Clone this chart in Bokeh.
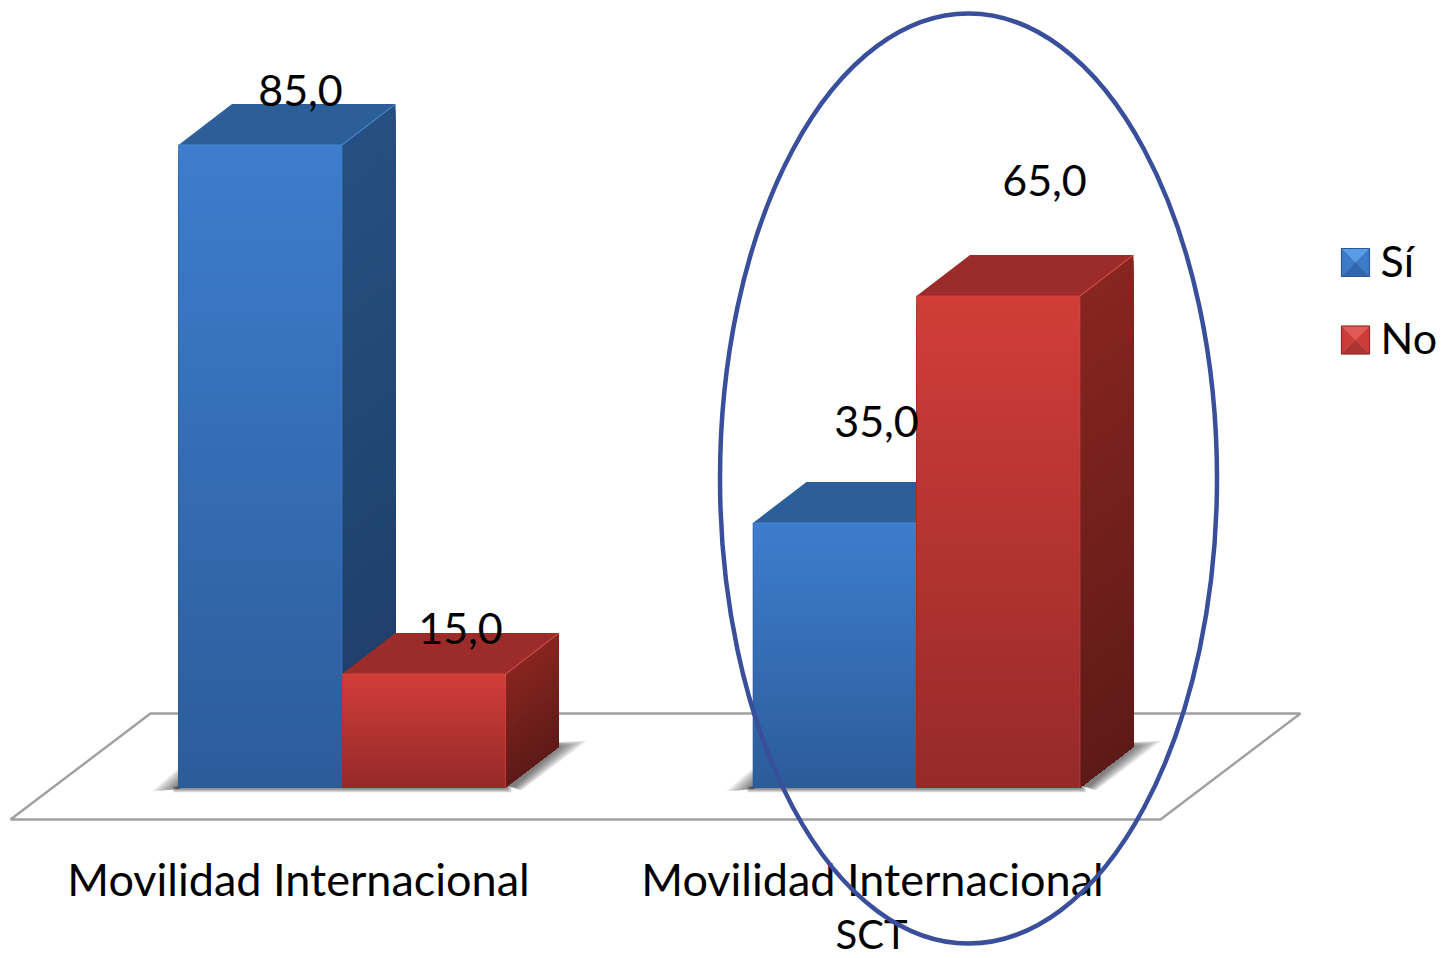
from bokeh.plotting import figure
from bokeh.models import ColumnDataSource
from bokeh.core.properties import value
from bokeh.embed import file_html
from bokeh.resources import INLINE

categories = ["Movilidad Internacional", "Movilidad Internacional\nSCT"]
si_values = [85.0, 35.0]
no_values = [15.0, 65.0]
series_names = ["Sí", "No"]

FONT = "Lato"
W, H = 1443, 958
PX_PER_GROUP = 574.5
PX_PER_UNIT = 7.56
X0_PX, Y0_PX = 341.5, 787.0


def gx(px):
    return (px - X0_PX) / PX_PER_GROUP


def vy(py):
    return (Y0_PX - py) / PX_PER_UNIT


BAR_W = 163.5 / PX_PER_GROUP
DX = 53.5 / PX_PER_GROUP
DY = 41.0 / PX_PER_UNIT

p = figure(width=W, height=H, x_range=(gx(0), gx(W)), y_range=(vy(H), vy(0)),
           toolbar_location=None, output_backend="svg", x_axis_location=None,
           y_axis_location=None, min_border=0, outline_line_color=None,
           background_fill_color="white")
p.grid.visible = False


def hexmix(a, b, t):
    ca = [int(a[i:i + 2], 16) for i in (1, 3, 5)]
    cb = [int(b[i:i + 2], 16) for i in (1, 3, 5)]
    return "#%02x%02x%02x" % tuple(round(x + (y - x) * t) for x, y in zip(ca, cb))


# floor plate
p.patch([gx(10), gx(1160), gx(1300), gx(150)], [vy(819), vy(819), vy(713), vy(713)],
        fill_color="white", line_color="#a0a0a0", line_width=2.4)

STYLE = {
    "Sí": dict(front=("#3d7dcd", "#2c5c9a"), side=("#265081", "#1d3d66"), top="#2c5f9a", edge="#4788d8"),
    "No": dict(front=("#d13d39", "#962a29"), side=("#88251f", "#5e1a18"), top="#9c2c2a", edge="#dc4a46"),
}


def draw_shadow(left, right):
    layers = 10
    for k in range(layers):
        g = 1 - k / layers
        alpha = .085
        # right-hand cast shadow
        p.patch([gx(right - 4), gx(right + 50), gx(right + 50 + 32 * g), gx(right + 8 + 8 * g)],
                [vy(784), vy(742), vy(740 + 8 * (1 - g)), vy(786 + 4 * g)],
                fill_color="#303030", fill_alpha=alpha, line_color=None)
        # left-hand cast shadow
        p.patch([gx(left + 2), gx(left + 2), gx(left - 27 * g)],
                [vy(766 + 18 * (1 - g)), vy(788), vy(789 + 2 * g)],
                fill_color="#303030", fill_alpha=alpha, line_color=None)
        # thin shadow along the base
        p.patch([gx(left - 6 * g), gx(right + 6 * g), gx(right + 6 * g), gx(left - 6 * g)],
                [vy(786), vy(786), vy(787 + 5 * g), vy(787 + 5 * g)],
                fill_color="#303030", fill_alpha=alpha, line_color=None)


def draw_bar(x_left, val, st):
    x_right = x_left + BAR_W
    n = max(24, int(val * 1.5))
    xs, ys, cs = [], [], []
    # side face: every slice runs down to the base, so no seams appear
    for i in range(n):
        v1 = val * (1 - i / n)
        xs.append([x_right, x_right + DX, x_right + DX, x_right])
        ys.append([v1, v1 + DY, DY, 0])
        cs.append(hexmix(st["side"][0], st["side"][1], (i + .5) / n))
    # front face
    for i in range(n):
        v1 = val * (1 - i / n)
        xs.append([x_left, x_right, x_right, x_left])
        ys.append([v1, v1, 0, 0])
        cs.append(hexmix(st["front"][0], st["front"][1], (i + .5) / n))
    # top face
    xs.append([x_left, x_right, x_right + DX, x_left + DX])
    ys.append([val, val, val + DY, val + DY])
    cs.append(st["top"])
    src = ColumnDataSource(dict(xs=xs, ys=ys, c=cs))
    p.patches("xs", "ys", source=src, fill_color="c", line_color=None)
    p.multi_line([[x_left, x_right], [x_right, x_right + DX]], [[val, val], [val, val + DY]],
                 line_color=st["edge"], line_width=1.2, line_alpha=.6)
    p.line([x_right, x_right], [0, val], line_color=st["edge"], line_width=1.2, line_alpha=.45)
    p.line([x_left, x_left], [0, val], line_color=st["front"][1], line_width=1.0, line_alpha=.6)


for g in range(len(categories)):
    draw_shadow(X0_PX + g * PX_PER_GROUP - 163.5, X0_PX + g * PX_PER_GROUP + 163.5)
for g, (a, b) in enumerate(zip(si_values, no_values)):
    draw_bar(g - BAR_W, a, STYLE["Sí"])
    draw_bar(g, b, STYLE["No"])

# value labels (pixel anchors are layout only)
label_px = [(300, 90), (460, 628), (876, 421), (1044, 180)]
label_vals = [si_values[0], no_values[0], si_values[1], no_values[1]]
p.text([gx(a) for a, _ in label_px], [vy(b) for _, b in label_px],
       text=[f"{v:.1f}".replace(".", ",") for v in label_vals],
       text_font=value(FONT), text_font_size="43px", text_color="black",
       text_align="center", text_baseline="middle")

# category labels
p.text([gx(298), gx(872)], [vy(878), vy(878)], text=[c.split("\n")[0] for c in categories],
       text_font=value(FONT), text_font_size="45px", text_color="black",
       text_align="center", text_baseline="middle")
p.text([gx(871)], [vy(933)], text=[categories[1].split("\n")[1]],
       text_font=value(FONT), text_font_size="40px", text_color="black",
       text_align="center", text_baseline="middle")

# legend swatches with bevel
for name, cy, tc, mc, bc, lc in (("Sí", 262, "#5a9be6", "#3c7bc8", "#3168ad", "#2b5a94"),
                                 ("No", 339.5, "#e25a55", "#cc3d3a", "#ab3331", "#8f2a28")):
    x1, x2, y1, y2, xc = 1341, 1369, cy - 14, cy + 14, 1355
    p.patches([[gx(x1), gx(x2), gx(xc)], [gx(x1), gx(xc), gx(x1)], [gx(x2), gx(xc), gx(x2)], [gx(x1), gx(x2), gx(xc)]],
              [[vy(y1), vy(y1), vy(cy)], [vy(y1), vy(cy), vy(y2)], [vy(y1), vy(cy), vy(y2)], [vy(y2), vy(y2), vy(cy)]],
              fill_color=[tc, mc, mc, bc], line_color=[tc, mc, mc, bc], line_width=.5)
    p.patch([gx(x1), gx(x2), gx(x2), gx(x1)], [vy(y1), vy(y1), vy(y2), vy(y2)],
            fill_color=None, line_color=lc, line_width=1.2)
    p.text([gx(1380)], [vy(cy - 2.5)], text=[name], text_font=value(FONT), text_font_size="43px",
           text_color="black", text_align="left", text_baseline="middle")

# highlighting ellipse
p.ellipse([gx(968)], [vy(478)], width=[497 / PX_PER_GROUP], height=[930 / PX_PER_UNIT],
          fill_color=None, line_color="#3a4f9c", line_width=4.5)

open("out.html", "w").write(file_html(p, INLINE))
